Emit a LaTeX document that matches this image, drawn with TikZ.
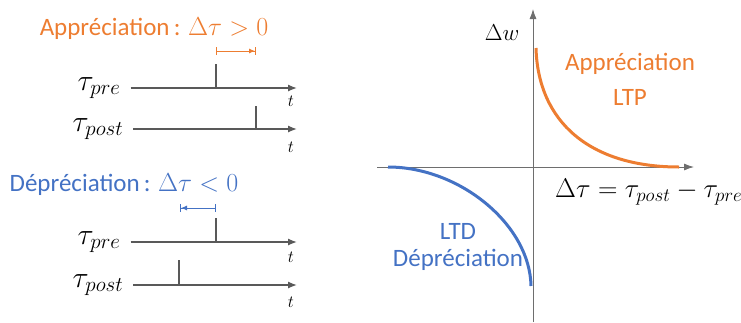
\RequirePackage{fix-cm}
\documentclass[tikz,border=0pt]{standalone}
\usepackage{fontspec}
\setmainfont{Carlito}
\usetikzlibrary{positioning,calc,arrows.meta}
\definecolor{Orange}{RGB}{237,125,49}
\definecolor{Blue}{RGB}{68,114,196}
\definecolor{LineGray}{RGB}{89,89,89}
\definecolor{AxisGray}{RGB}{110,110,110}
\newcommand{\bigmath}[1]{{\fontsize{26}{30}\selectfont$#1$}}
\tikzset{%
  title/.style={font=\fontsize{25}{30}\selectfont, inner sep=0pt},
  tlabel/.style={font=\fontsize{30}{34}\selectfont, inner xsep=10pt, inner ysep=0pt},
  tmark/.style={font=\fontsize{17}{20}\selectfont, inner sep=0pt},
  timeline/.style={draw=LineGray, line width=1.3pt, -{Latex[length=9pt,width=7pt]}},
  spike/.style={draw=LineGray, line width=1.3pt},
  delta/.style={line width=1pt, {Bar[width=8pt]}-{Latex[length=6pt,width=5pt]Bar[width=8pt]}},
  axis/.style={draw=AxisGray, line width=0.9pt, -{Latex[length=10pt,width=7pt]}},
  curve/.style={line width=3pt},
}

\begin{document}
\begin{tikzpicture}[x=1pt,y=-1pt]
  \useasboundingbox (0,0) rectangle (741,322);

  % appreciation
  \node (app) [title, text=Orange] at (154,29) {Appréciation\,: \bigmath{\Delta\tau > 0}};
  \coordinate (appA) at (216,51);
  \coordinate (appB) at (256,51);
  \draw[delta, Orange] (appA) -- (appB);

  \node (pre1) [tlabel] at (99,88) {$\tau_{pre}$};
  \coordinate (pre1end) at (297,88);
  \draw[timeline] (pre1) -- (pre1end);
  \node (t1) [tmark] at (291,101) {$t$};
  \coordinate (pre1spike) at (216,64);
  \draw[spike] (pre1spike) -- (pre1spike |- pre1end);

  \node (post1) [tlabel] at (98,129) {$\tau_{post}$};
  \coordinate (post1end) at (297,129);
  \draw[timeline] (post1) -- (post1end);
  \node (t2) [tmark] at (291,147) {$t$};
  \coordinate (post1spike) at (256,106);
  \draw[spike] (post1spike) -- (post1spike |- post1end);

  % depreciation
  \node (dep) [title, text=Blue] at (124,185) {Dépréciation\,: \bigmath{\Delta\tau < 0}};
  \coordinate (depA) at (216,208);
  \coordinate (depB) at (180,208);
  \draw[delta, Blue] (depA) -- (depB);

  \node (pre2) [tlabel] at (99,242) {$\tau_{pre}$};
  \coordinate (pre2end) at (297,242);
  \draw[timeline] (pre2) -- (pre2end);
  \node (t3) [tmark] at (291,257) {$t$};
  \coordinate (pre2spike) at (216,218);
  \draw[spike] (pre2spike) -- (pre2spike |- pre2end);

  \node (post2) [tlabel] at (98,285) {$\tau_{post}$};
  \coordinate (post2end) at (297,285);
  \draw[timeline] (post2) -- (post2end);
  \node (t4) [tmark] at (291,302) {$t$};
  \coordinate (post2spike) at (179,260);
  \draw[spike] (post2spike) -- (post2spike |- post2end);

  % STDP window
  \coordinate (origin) at (533,167);
  \coordinate (xmin) at (377,167);
  \coordinate (xmax) at (694,167);
  \coordinate (ymin) at (533,322);
  \coordinate (ymax) at (533,9);
  \draw[axis] (xmin) -- (xmax);
  \draw[axis] (ymin) -- (ymax);
  \node (dw) [title, font=\fontsize{23}{26}\selectfont] at (502,33) {$\Delta w$};
  \node (dtau) [title, font=\fontsize{27}{30}\selectfont, anchor=west] at (555,192) {$\Delta\tau = \tau_{post} - \tau_{pre}$};

  \coordinate (ltpA) at (536,48);
  \coordinate (ltpB) at (679,167);
  \draw[curve, Orange] (ltpA) .. controls (538,122) and (590,167) .. (ltpB);
  \coordinate (ltdA) at (388,167);
  \coordinate (ltdB) at (531,286);
  \draw[curve, Blue] (ltdA) .. controls (460,167) and (530,225) .. (ltdB);

  \node (ltp) [title, font=\fontsize{25}{35}\selectfont, text=Orange, align=center] at (630,79) {Appréciation\\LTP};
  \node (ltd) [title, font=\fontsize{25}{27}\selectfont, text=Blue, align=center] at (458,247) {LTD\\Dépréciation};
\end{tikzpicture}
\end{document}
